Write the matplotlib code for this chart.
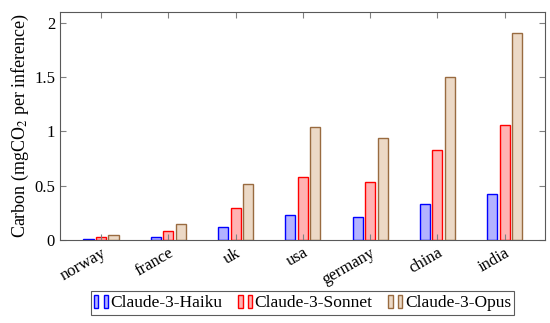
import numpy as np
import matplotlib.pyplot as plt
from matplotlib.patches import Rectangle
from matplotlib.legend_handler import HandlerTuple

plt.rcParams['font.family'] = ['Liberation Serif', 'DejaVu Serif']
plt.rcParams['mathtext.fontset'] = 'stix'

countries = ["norway", "france", "uk", "usa", "germany", "china", "india"]
haiku = [0.01, 0.03, 0.12, 0.23, 0.21, 0.33, 0.42]
sonnet = [0.03, 0.08, 0.29, 0.58, 0.53, 0.83, 1.06]
opus = [0.05, 0.15, 0.52, 1.04, 0.94, 1.50, 1.91]
models = ["Claude-3-Haiku", "Claude-3-Sonnet", "Claude-3-Opus"]

fills = [(0.7, 0.7, 1.0), (1.0, 0.7, 0.7), (0.925, 0.85, 0.775)]
edges = [(0.0, 0.0, 1.0), (1.0, 0.0, 0.0), (0.6, 0.42, 0.25)]

fig = plt.figure(figsize=(5.5, 3.23), dpi=100)
ax = fig.add_axes([0.109, 0.257, 0.882, 0.706])

x = np.arange(len(countries))
w = 0.15
step = 0.186
handles = []
for i, vals in enumerate([haiku, sonnet, opus]):
    ax.bar(x + (i - 1) * step, vals, w, color=fills[i], edgecolor=edges[i], linewidth=1)
    p1 = Rectangle((0, 0), 1, 1, facecolor=fills[i], edgecolor=edges[i], linewidth=1)
    p2 = Rectangle((0, 0), 1, 1, facecolor=fills[i], edgecolor=edges[i], linewidth=1)
    handles.append((p1, p2))

ax.set_xlim(-0.61, 6.6)
ax.set_ylim(0, 2.1)
ax.set_xticks(x)
ax.set_xticklabels(countries, rotation=30, ha='right', rotation_mode='anchor')
ax.set_yticks([0, 0.5, 1, 1.5, 2])
ax.set_yticklabels(["0", "0.5", "1", "1.5", "2"])
ax.tick_params(direction='in', top=True, right=True, labelsize=12, length=4, color='0.5')
ax.set_ylabel("Carbon (mgCO$_2$ per inference)", fontsize=13, labelpad=2)
for s in ax.spines.values():
    s.set_color('0.35')
    s.set_linewidth(0.8)

leg = ax.legend(handles, models, loc='upper center', bbox_to_anchor=(0.5, -0.225),
                ncol=3, frameon=True, fancybox=False, fontsize=12.5,
                handler_map={tuple: HandlerTuple(ndivide=None, pad=0.3)},
                handlelength=0.8, handleheight=0.8, handletextpad=0.15,
                columnspacing=0.9, borderpad=0.2, borderaxespad=0)
leg.get_frame().set_edgecolor('0.2')
leg.get_frame().set_linewidth(0.8)

fig.savefig("out.png", dpi=100)
